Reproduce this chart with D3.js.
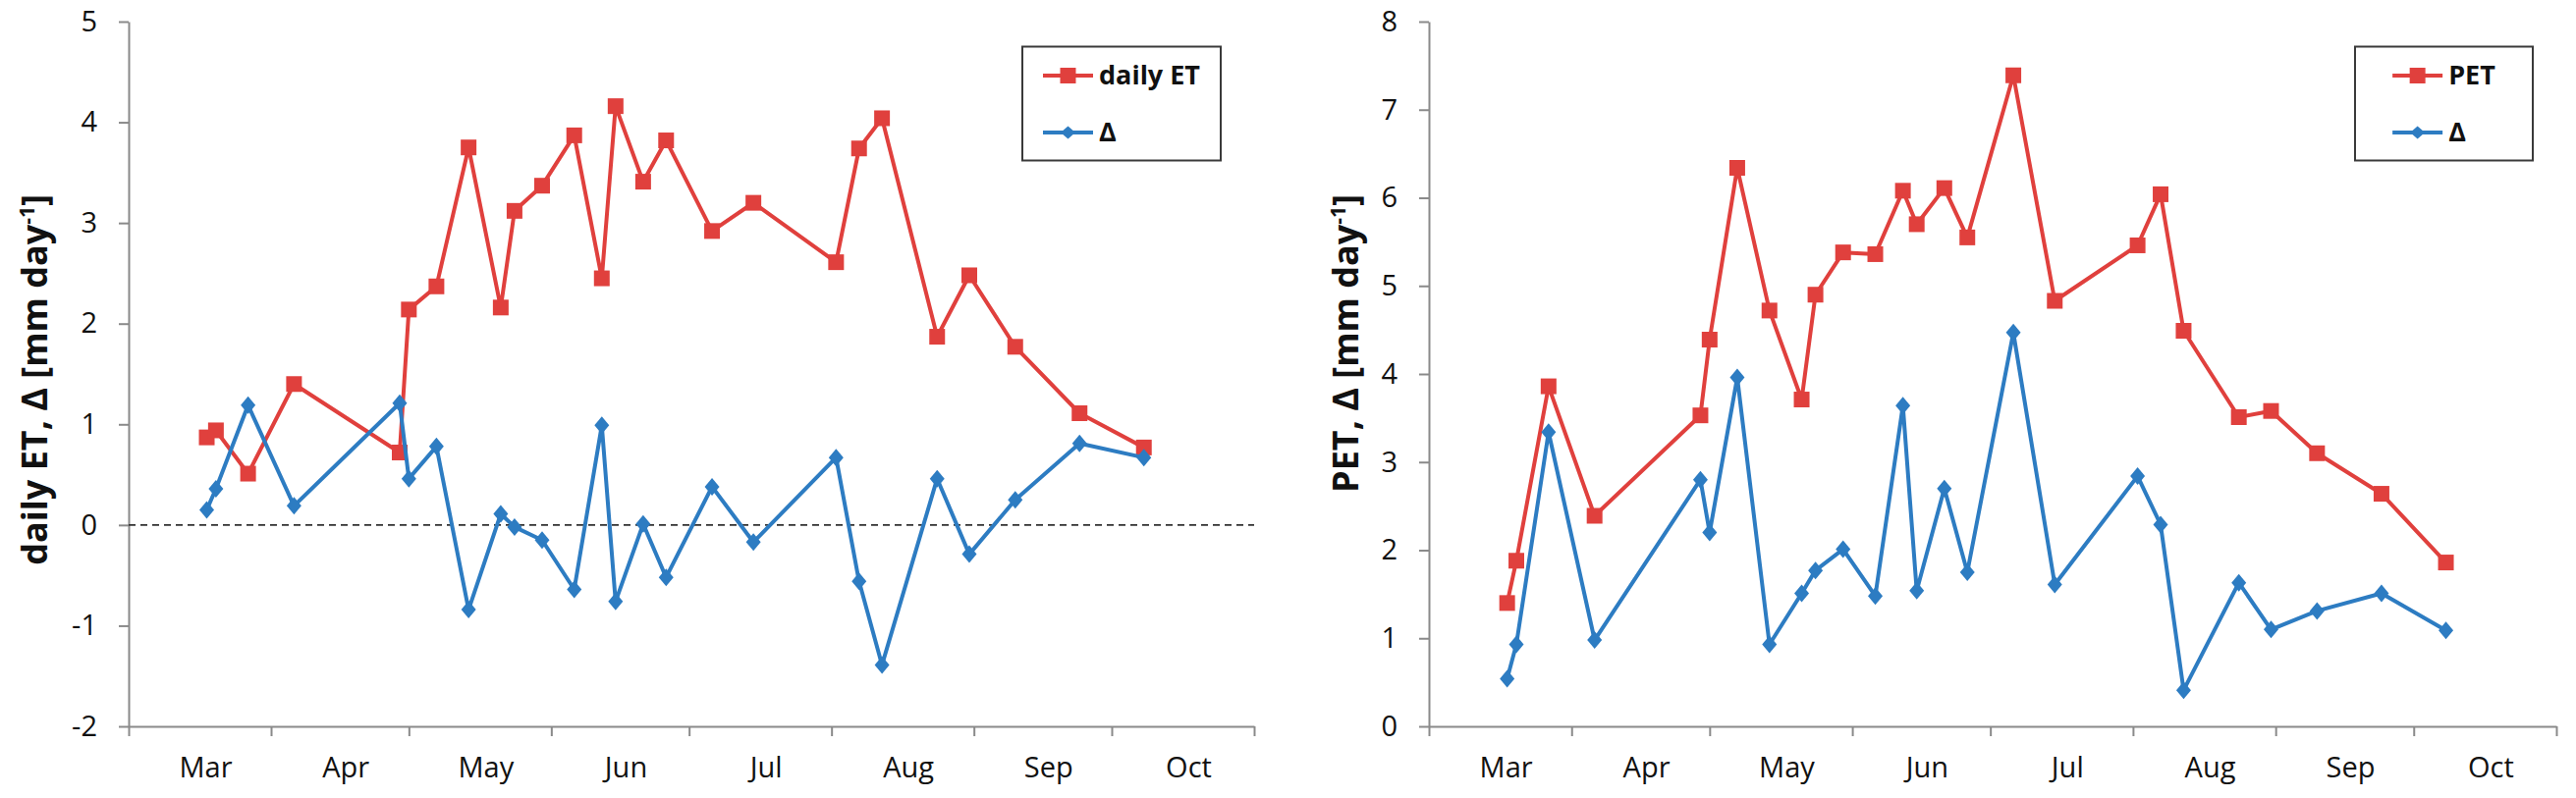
<!DOCTYPE html>
<html>
<head>
<meta charset="utf-8">
<script src="https://cdn.jsdelivr.net/npm/d3@7"></script>
<style>
  body { margin: 0; background: #fff; }
  svg { display: block; font-family: "Open Sans", Lato, sans-serif; }
</style>
</head>
<body>
<svg id="chart" width="2623" height="813"></svg>
<script>
// sampling dates, same for both panels
const sampleDates = [
  "2011-03-18", "2011-03-20", "2011-03-27", "2011-04-06", "2011-04-29",
  "2011-05-01", "2011-05-07", "2011-05-14", "2011-05-21", "2011-05-24",
  "2011-05-30", "2011-06-06", "2011-06-12", "2011-06-15", "2011-06-21",
  "2011-06-26", "2011-07-06", "2011-07-15", "2011-08-02", "2011-08-07",
  "2011-08-12", "2011-08-24", "2011-08-31", "2011-09-10", "2011-09-24",
  "2011-10-08"
];

// left panel
const dailyET = [0.87, 0.94, 0.51, 1.40, 0.72, 2.14, 2.37, 3.75, 2.16, 3.12,
  3.37, 3.87, 2.45, 4.16, 3.41, 3.82, 2.92, 3.20, 2.61, 3.74,
  4.04, 1.87, 2.48, 1.77, 1.11, 0.77];
const deltaET = [0.15, 0.36, 1.19, 0.19, 1.21, 0.46, 0.78, -0.84, 0.11, -0.02,
  -0.15, -0.64, 0.99, -0.76, 0.01, -0.52, 0.38, -0.17, 0.67, -0.56,
  -1.39, 0.46, -0.29, 0.25, 0.81, 0.67];

// right panel
const petValues = [1.40, 1.88, 3.86, 2.39, 3.53, 4.39, 6.34, 4.72, 3.71, 4.90,
  5.38, 5.36, 6.08, 5.70, 6.11, 5.55, 7.39, 4.83, 5.46, 6.04,
  4.49, 3.51, 3.58, 3.10, 2.64, 1.86];
const deltaPET = [0.54, 0.93, 3.34, 0.98, 2.80, 2.20, 3.96, 0.93, 1.51, 1.77,
  2.01, 1.48, 3.64, 1.54, 2.70, 1.75, 4.47, 1.61, 2.84, 2.29,
  0.41, 1.63, 1.10, 1.31, 1.51, 1.09];

const leftYTicks = [-2, -1, 0, 1, 2, 3, 4, 5];
const rightYTicks = [0, 1, 2, 3, 4, 5, 6, 7, 8];
const axisStart = "2011-03-01", axisEnd = "2011-11-01";

const RED = "#e0403d", BLUE = "#2d7cc2";
const SQUARE = "M-8,-8H8V8H-8Z", DIAMOND = "M0,-9L7.5,0L0,9L-7.5,0Z";
const parse = d3.timeParse("%Y-%m-%d");
const dates = sampleDates.map(parse);
const svg = d3.select("#chart");

function drawPanel(p) {
  const x = d3.scaleTime().domain([parse(axisStart), parse(axisEnd)]).range([p.left, p.right]);
  const y = d3.scaleLinear().domain(p.yDomain).range([740, 22]);
  const g = svg.append("g");

  // y axis (plain hyphen for negatives, as in the original)
  const ya = g.append("g")
      .attr("transform", `translate(${p.left},0)`)
      .call(d3.axisLeft(y).tickValues(p.yTicks).tickFormat(d => String(d))
        .tickSize(10).tickPadding(22).tickSizeOuter(0));
  // x axis: ticks on month boundaries, labels centred in months
  const months = d3.timeMonth.range(x.domain()[0], d3.timeDay.offset(x.domain()[1], 1));
  const xa = g.append("g")
      .attr("transform", `translate(0,740)`)
      .call(d3.axisBottom(x).tickValues(months).tickFormat("").tickSize(10).tickSizeOuter(0));
  [ya, xa].forEach(a => {
    a.select(".domain").attr("stroke", "#8a8a8a").attr("stroke-width", 2);
    a.selectAll(".tick line").attr("stroke", "#8a8a8a").attr("stroke-width", 2);
  });
  ya.selectAll(".tick text").attr("font-size", 29).attr("fill", "#111")
    .attr("font-family", "'Open Sans', sans-serif");

  g.append("g").selectAll("text")
    .data(months.slice(0, -1))
    .join("text")
      .attr("x", d => (x(d) + x(d3.timeMonth.offset(d, 1))) / 2 + 6)
      .attr("y", 792)
      .attr("text-anchor", "middle")
      .attr("font-size", 29)
      .attr("fill", "#111")
      .text(d3.timeFormat("%b"));

  // axis title with superscript, its end sits near the top of the axis
  const t = g.append("text")
      .attr("transform", `translate(${p.titleX},198) rotate(-90)`)
      .attr("text-anchor", "end")
      .attr("dy", "0.35em")
      .attr("font-size", 36)
      .attr("font-weight", 700)
      .attr("fill", "#111");
  t.append("tspan").text(p.title + " [mm day");
  t.append("tspan").attr("dy", -13).attr("font-size", 21).text("-1");
  t.append("tspan").attr("dy", 13).text("]");

  if (p.zeroLine) {
    g.append("line")
      .attr("x1", p.left).attr("x2", p.right)
      .attr("y1", y(0)).attr("y2", y(0))
      .attr("stroke", "#333").attr("stroke-width", 1.8)
      .attr("stroke-dasharray", "7,5");
  }

  const line = d3.line().x((d, i) => x(dates[i])).y(d => y(d));
  p.series.forEach(s => {
    g.append("path")
      .attr("d", line(s.values))
      .attr("fill", "none")
      .attr("stroke", s.color)
      .attr("stroke-width", 4)
      .attr("stroke-linejoin", "round");
    g.append("g").selectAll("path")
      .data(s.values)
      .join("path")
        .attr("transform", (d, i) => `translate(${x(dates[i])},${y(d)})`)
        .attr("d", s.marker === "square" ? SQUARE : DIAMOND)
        .attr("fill", s.color);
  });

  // legend
  const lg = g.append("g");
  lg.append("rect")
    .attr("x", p.legend.x).attr("y", 47.5)
    .attr("width", p.legend.w).attr("height", 116)
    .attr("fill", "#fff").attr("stroke", "#3a3a3a").attr("stroke-width", 2);
  const rows = lg.selectAll("g.row").data(p.series).join("g").attr("class", "row");
  const labels = rows.append("text")
      .attr("font-size", 27).attr("font-weight", 700).attr("fill", "#111")
      .attr("dy", "0.35em")
      .text(d => d.name);
  const textW = d3.max(labels.nodes(), n => n.getComputedTextLength());
  const x0 = p.legend.x + (p.legend.w - (51 + 6 + textW)) / 2;
  rows.attr("transform", (d, i) => `translate(${x0},${77 + i * 58})`);
  labels.attr("x", 57);
  rows.append("line")
    .attr("x1", 0).attr("x2", 51)
    .attr("stroke", d => d.color).attr("stroke-width", 4);
  rows.append("path")
    .attr("transform", "translate(25.5,0)")
    .attr("d", d => d.marker === "square" ? SQUARE : "M0,-6.5L7.5,0L0,6.5L-7.5,0Z")
    .attr("fill", d => d.color);
}

drawPanel({
  left: 131, right: 1277, yDomain: [-2, 5], yTicks: leftYTicks,
  titleX: 35, title: "daily ET, \u0394", zeroLine: true,
  legend: { x: 1041, w: 202 },
  series: [
    { name: "daily ET", values: dailyET, color: RED, marker: "square" },
    { name: "\u0394", values: deltaET, color: BLUE, marker: "diamond" }
  ]
});

drawPanel({
  left: 1455, right: 2603, yDomain: [0, 8], yTicks: rightYTicks,
  titleX: 1370, title: "PET, \u0394", zeroLine: false,
  legend: { x: 2398, w: 181 },
  series: [
    { name: "PET", values: petValues, color: RED, marker: "square" },
    { name: "\u0394", values: deltaPET, color: BLUE, marker: "diamond" }
  ]
});
</script>
</body>
</html>
